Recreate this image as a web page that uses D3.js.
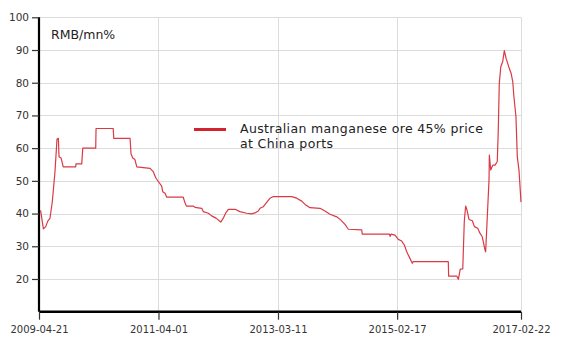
<!DOCTYPE html>
<html><head><meta charset="utf-8">
<script src="https://cdn.jsdelivr.net/npm/d3@7"></script>
<style>
html,body{margin:0;padding:0;background:#fff;}
svg{display:block;font-family:"DejaVu Sans",Verdana,sans-serif;}
</style></head>
<body><svg id="c" width="573" height="361"></svg>
<script>
const dates = ["2009-04-21","2009-05-01","2009-05-17","2009-05-31","2009-06-12","2009-06-25","2009-07-09","2009-07-25","2009-08-06","2009-08-14","2009-08-18","2009-08-30","2009-09-12","2009-11-25","2009-11-27","2009-12-31","2010-01-06","2010-03-24","2010-03-26","2010-07-06","2010-07-09","2010-10-14","2010-10-20","2010-10-30","2010-11-12","2010-11-23","2011-02-10","2011-03-01","2011-03-17","2011-03-31","2011-04-20","2011-04-26","2011-05-10","2011-05-20","2011-08-26","2011-09-06","2011-09-14","2011-10-25","2011-11-04","2011-12-14","2011-12-23","2012-01-22","2012-02-11","2012-03-08","2012-04-05","2012-04-20","2012-05-06","2012-05-20","2012-06-29","2012-07-28","2012-09-06","2012-10-06","2012-10-25","2012-11-14","2012-11-24","2012-12-14","2013-01-03","2013-01-23","2013-02-11","2013-06-01","2013-06-30","2013-07-30","2013-08-19","2013-09-17","2013-11-16","2013-12-15","2014-01-14","2014-02-23","2014-03-20","2014-04-13","2014-05-03","2014-07-21","2014-07-25","2015-01-03","2015-01-06","2015-01-12","2015-02-04","2015-02-24","2015-03-16","2015-04-01","2015-04-15","2015-05-04","2015-05-18","2015-05-24","2015-12-18","2015-12-20","2016-02-06","2016-02-16","2016-02-27","2016-03-13","2016-03-22","2016-03-30","2016-04-07","2016-04-19","2016-05-09","2016-05-21","2016-06-10","2016-06-23","2016-07-07","2016-07-23","2016-07-27","2016-08-16","2016-08-18","2016-08-26","2016-09-07","2016-09-21","2016-10-04","2016-10-10","2016-10-16","2016-10-25","2016-11-05","2016-11-15","2016-11-25","2016-12-05","2016-12-14","2016-12-25","2017-01-04","2017-01-11","2017-01-23","2017-01-31","2017-02-10","2017-02-22"];
const prices = [41,40.8,35.3,36,37.7,38.5,43.6,52.8,62.8,63,57.4,57,54.3,54.3,55.2,55.2,60,60,66,66,63,63,58.2,57,56.5,54.3,53.8,52.8,50.8,49.8,48.4,46.7,46.2,45,45,43.2,42.3,42.3,41.9,41.6,40.6,40.1,39.3,38.6,37.4,38.6,40.3,41.3,41.3,40.6,40.1,39.9,40.2,40.8,41.6,42.1,43.4,44.7,45.2,45.2,44.7,43.8,42.8,41.8,41.6,40.8,39.8,39,38,36.7,35.2,35,33.7,33.7,33,33.7,33.4,32.1,31.6,30.4,28.3,26.3,24.8,25.3,25.3,20.9,20.9,19.9,23,23.1,37.5,42.3,41.1,38.2,37.8,36,35.5,34,32.9,28.9,28.3,50.3,57.9,53.3,54.8,54.8,55.9,65.5,79.8,84.9,86.4,89.8,87.5,85.9,84.4,82.9,80.3,75.7,69.6,57.4,53.3,43.5];
const xTickLabels = ["2009-04-21","2011-04-01","2013-03-11","2015-02-17","2017-02-22"];
const yTicks = [20,30,40,50,60,70,80,90,100];
const unitLabel = "RMB/mn%";
const legendLines = ["Australian manganese ore 45% price","at China ports"];

const parse = d3.timeParse("%Y-%m-%d");
const data = dates.map((d,i)=>({date:parse(d), v:prices[i]}));
const svg = d3.select("#c");
const L=39, R=521, T=17.3, B=311.7;
const x = d3.scaleTime().domain([parse(xTickLabels[0]), parse(xTickLabels[xTickLabels.length-1])]).range([L,R]);
const y = d3.scaleLinear().domain([10,100]).range([B,T]);

// grid
const g = svg.append("g");
g.selectAll("line.h").data(yTicks).join("line")
  .attr("x1",L).attr("x2",R).attr("y1",d=>Math.round(y(d))+0.5).attr("y2",d=>Math.round(y(d))+0.5)
  .attr("stroke","#dcdcdc").attr("stroke-width",1);
g.selectAll("line.v").data(xTickLabels.slice(1)).join("line")
  .attr("x1",d=>Math.round(x(parse(d)))+0.5).attr("x2",d=>Math.round(x(parse(d)))+0.5)
  .attr("y1",T).attr("y2",B).attr("stroke","#dcdcdc").attr("stroke-width",1);

// line
svg.append("path").datum(data)
  .attr("fill","none").attr("stroke","#d93a44").attr("stroke-width",1.2)
  .attr("stroke-linejoin","round")
  .attr("d", d3.line().x(d=>x(d.date)).y(d=>y(d.v)));

// y axis
const ya = svg.append("g").attr("transform",`translate(${L},0)`)
  .call(d3.axisLeft(y).tickValues(yTicks).tickSize(7).tickPadding(3));
ya.select(".domain").attr("d",`M0,${T}V${B}`).attr("stroke","#000").attr("stroke-width",2.2);
ya.selectAll(".tick line").attr("stroke","#333").attr("stroke-width",1.2);
ya.selectAll(".tick text").attr("font-size","10.5px").attr("fill","#333").attr("font-family","DejaVu Sans");

// x axis
const xa = svg.append("g").attr("transform",`translate(0,${B})`)
  .call(d3.axisBottom(x).tickValues(xTickLabels.map(parse)).tickFormat(d3.timeFormat("%Y-%m-%d")).tickSize(8).tickPadding(6));
xa.select(".domain").attr("d",`M${L},0H${R}`).attr("stroke","#000").attr("stroke-width",2.5);
xa.selectAll(".tick line").attr("stroke","#333").attr("stroke-width",1.2);
xa.selectAll(".tick text").attr("font-size","10px").attr("fill","#333").attr("font-family","DejaVu Sans");

// unit label
svg.append("text").attr("x",51).attr("y",38.5).attr("font-size","12.5px").attr("fill","#222").text(unitLabel);

// legend
svg.append("line").attr("x1",194).attr("x2",226).attr("y1",129.5).attr("y2",129.5)
  .attr("stroke","#d3232f").attr("stroke-width",3);
svg.append("text").attr("x",240).attr("y",133).attr("font-size","12.5px").attr("letter-spacing","0.35px").attr("fill","#222").text(legendLines[0]);
svg.append("text").attr("x",240).attr("y",148).attr("font-size","12.5px").attr("letter-spacing","0.35px").attr("fill","#222").text(legendLines[1]);
</script></body></html>
